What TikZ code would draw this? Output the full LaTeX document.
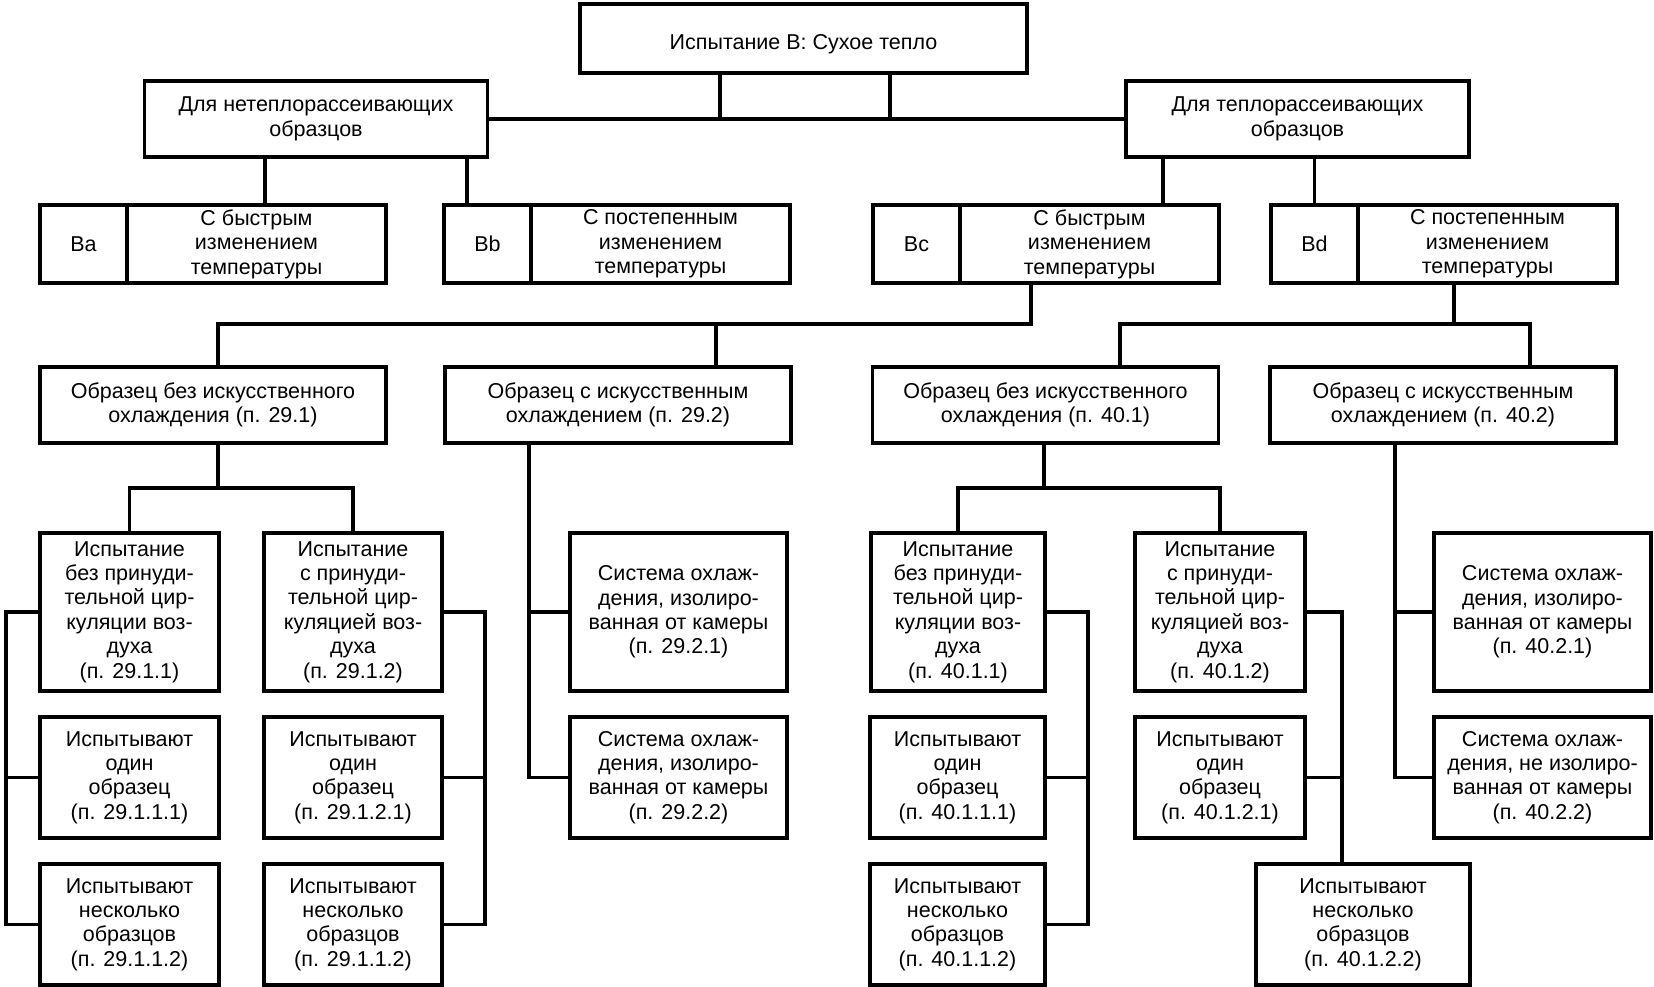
\documentclass[tikz,border=0pt]{standalone}
\usepackage{fontspec}
\setmainfont{Liberation Sans}

\begin{document}
\begin{tikzpicture}[x=1pt,y=-1pt,
  box/.style={draw,line width=3.5pt,align=center,inner sep=2pt,outer sep=0pt,
    font=\fontsize{21.5}{24.4}\selectfont},
  wide/.style={box,minimum width=346pt,minimum height=76pt},
  tag/.style={box,minimum width=87pt,minimum height=78pt},
  mode/.style={box,minimum width=259pt,minimum height=78pt,anchor=west},
  tall/.style={box,minimum width=#1,minimum height=158pt},
  short/.style={box,minimum width=#1,minimum height=121pt},
  link/.style={line width=3.5pt}]
  \useasboundingbox (0,0) rectangle (1654,986);

  \node[box,minimum width=447pt,minimum height=69pt,text height=22pt,text depth=0pt] (top) at (803.5,38.5) {Испытание B: Сухое тепло};
  \node[wide,minimum width=343pt] (lft) at (316,119) {Для нетеплорассеивающих\\образцов};
  \node[wide,minimum width=343pt] (rgt) at (1297.5,119) {Для теплорассеивающих\\образцов};

  \node[tag] (Ba) at (83.5,244) {Ba};
  \node[mode] (BaT) at (Ba.east) {С быстрым\\изменением\\температуры};
  \node[tag] (Bb) at (487.5,244) {Bb};
  \node[mode] (BbT) at (Bb.east) {С постепенным\\изменением\\температуры};
  \node[tag] (Bc) at (916.5,244) {Bc};
  \node[mode] (BcT) at (Bc.east) {С быстрым\\изменением\\температуры};
  \node[tag] (Bd) at (1314.5,244) {Bd};
  \node[mode] (BdT) at (Bd.east) {С постепенным\\изменением\\температуры};

  \node[wide] (o291) at (213,405) {Образец без искусственного\\охлаждения (п. 29.1)};
  \node[wide] (o292) at (618,405) {Образец с искусственным\\охлаждением (п. 29.2)};
  \node[wide] (o401) at (1045.5,405) {Образец без искусственного\\охлаждения (п. 40.1)};
  \node[wide] (o402) at (1443,405) {Образец с искусственным\\охлаждением (п. 40.2)};

  \node[tall=179pt] (t2911) at (129.5,612) {Испытание\\без принуди-\\тельной цир-\\куляции воз-\\духа\\(п. 29.1.1)};
  \node[tall=178pt] (t2912) at (353,612) {Испытание\\с принуди-\\тельной цир-\\куляцией воз-\\духа\\(п. 29.1.2)};
  \node[tall=217pt] (s2921) at (678.5,612) {Система охлаж-\\дения, изолиро-\\ванная от камеры\\(п. 29.2.1)};
  \node[tall=174pt] (t4011) at (958,612) {Испытание\\без принуди-\\тельной цир-\\куляции воз-\\духа\\(п. 40.1.1)};
  \node[tall=170pt] (t4012) at (1220,612) {Испытание\\с принуди-\\тельной цир-\\куляцией воз-\\духа\\(п. 40.1.2)};
  \node[tall=217pt] (s4021) at (1542.5,612) {Система охлаж-\\дения, изолиро-\\ванная от камеры\\(п. 40.2.1)};

  \node[short=179pt] (i29111) at (129.5,777.5) {Испытывают\\один\\образец\\(п. 29.1.1.1)};
  \node[short=178pt] (i29121) at (353,777.5) {Испытывают\\один\\образец\\(п. 29.1.2.1)};
  \node[short=217pt] (s2922) at (678.5,777.5) {Система охлаж-\\дения, изолиро-\\ванная от камеры\\(п. 29.2.2)};
  \node[short=175pt] (i40111) at (957.5,777.5) {Испытывают\\один\\образец\\(п. 40.1.1.1)};
  \node[short=170pt] (i40121) at (1220,777.5) {Испытывают\\один\\образец\\(п. 40.1.2.1)};
  \node[short=217pt] (s4022) at (1542.5,777.5) {Система охлаж-\\дения, не изолиро-\\ванная от камеры\\(п. 40.2.2)};

  \node[short=179pt] (i29112) at (129.5,924.5) {Испытывают\\несколько\\образцов\\(п. 29.1.1.2)};
  \node[short=178pt] (i2912b) at (353,924.5) {Испытывают\\несколько\\образцов\\(п. 29.1.1.2)};
  \node[short=175pt] (i40112) at (957.5,924.5) {Испытывают\\несколько\\образцов\\(п. 40.1.1.2)};
  \node[short=214pt] (i40122) at (1363,924.5) {Испытывают\\несколько\\образцов\\(п. 40.1.2.2)};

  % upper levels
  \draw[link] (lft.east) -- (rgt.west);
  \draw[link] (top.south -| 720,0) -- (lft.east -| 720,0);
  \draw[link] (top.south -| 890,0) -- (lft.east -| 890,0);
  \draw[link] (lft.south -| 265,0) -- (BaT.north -| 265,0);
  \draw[link] (lft.south -| 467,0) -- (Bb.north -| 467,0);
  \draw[link] (rgt.south -| 1163,0) -- (BcT.north -| 1163,0);
  \draw[link] (rgt.south -| Bd.north) -- (Bd.north);

  % kinds of samples
  \coordinate (jc) at (1031,324);
  \coordinate (jd) at (1454,324);
  \draw[link] (BcT.south -| jc) -- (jc) -| (o291.north -| 218,0);
  \draw[link] (o292.north -| 716,0) |- (jc);
  \draw[link] (BdT.south -| jd) -- (jd) -| (o402.north -| 1530,0);
  \draw[link] (o401.north -| 1120,0) |- (jd);

  % 29.1
  \coordinate (j291) at (218,488);
  \draw[link] (o291.south -| j291) -- (j291);
  \draw[link] (t2911.north) |- (j291) -| (t2912.north);
  \draw[link] (t2911.west) -| (i29112.west -| 6,0) -- (i29112.west);
  \draw[link] (i29111.west) -- (i29111.west -| 6,0);
  \draw[link] (t2912.east) -| (i2912b.east -| 485,0) -- (i2912b.east);
  \draw[link] (i29121.east) -- (i29121.east -| 485,0);
  % 29.2
  \draw[link] (o292.south -| 529,0) |- (s2922.west);
  \draw[link] (s2921.west) -- (s2921.west -| 529,0);
  % 40.1
  \coordinate (j401) at (1044,488);
  \draw[link] (o401.south -| j401) -- (j401);
  \draw[link] (t4011.north) |- (j401) -| (t4012.north);
  \draw[link] (t4011.east) -| (i40112.east -| 1088,0) -- (i40112.east);
  \draw[link] (i40111.east) -- (i40111.east -| 1088,0);
  \draw[link] (t4012.east) -| (i40122.north -| 1342,0);
  \draw[link] (i40121.east) -- (i40121.east -| 1342,0);
  % 40.2
  \draw[link] (o402.south -| 1395,0) |- (s4022.west);
  \draw[link] (s4021.west) -- (s4021.west -| 1395,0);
\end{tikzpicture}
\end{document}
